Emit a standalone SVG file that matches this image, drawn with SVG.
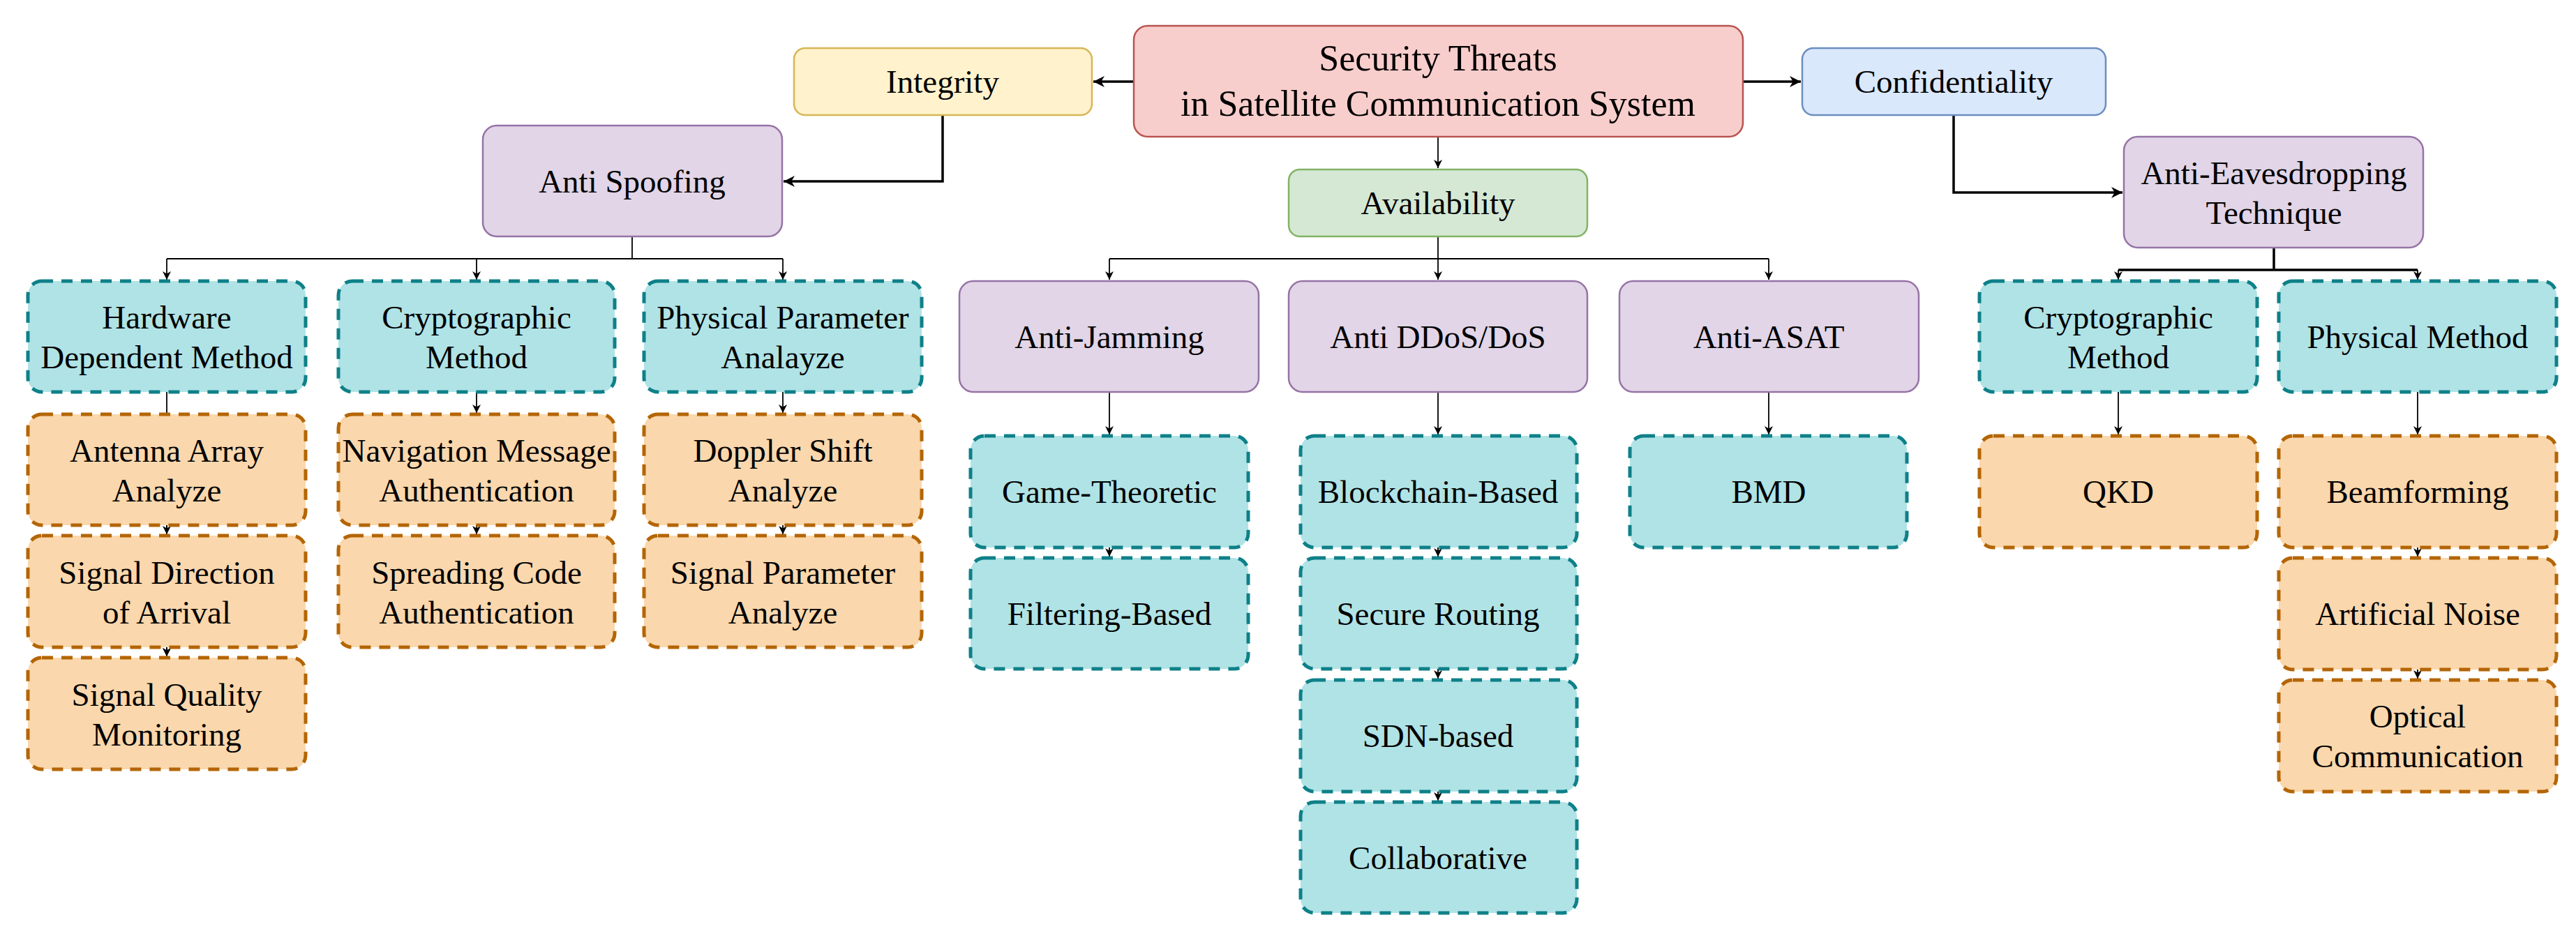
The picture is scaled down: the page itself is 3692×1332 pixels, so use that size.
<svg xmlns="http://www.w3.org/2000/svg" width="3692" height="1332" viewBox="0 0 3692 1332">
<style>
text{font-family:"Liberation Serif","Times New Roman",serif;font-size:47px;text-anchor:middle;fill:#000}
.r{fill:#f8cecc;stroke:#b85450;stroke-width:2.5}
.y{fill:#fff2cc;stroke:#d6b656;stroke-width:2.5}
.b{fill:#dae8fc;stroke:#6c8ebf;stroke-width:2.5}
.g{fill:#d5e8d4;stroke:#82b366;stroke-width:2.5}
.p{fill:#e1d5e7;stroke:#9673a6;stroke-width:2.5}
.t{fill:#b0e3e6;stroke:#0e8088;stroke-width:5;stroke-dasharray:16 12}
.o{fill:#fad7ac;stroke:#b46504;stroke-width:5;stroke-dasharray:16 12}
.c{fill:none;stroke:#000;stroke-width:1.8}
.k{fill:none;stroke:#000;stroke-width:3.5}
</style>
<defs>
<marker id="a" viewBox="0 0 10 10" refX="10" refY="5" markerWidth="12" markerHeight="12" markerUnits="userSpaceOnUse" orient="auto"><path d="M0,0 L10,5 L0,10 L3,5 Z" fill="#000"/></marker>
<marker id="A" viewBox="0 0 10 10" refX="10" refY="5" markerWidth="16" markerHeight="16" markerUnits="userSpaceOnUse" orient="auto"><path d="M0,0 L10,5 L0,10 L3,5 Z" fill="#000"/></marker>
</defs>
<g id="connectors">
<path class="k" d="M1625,117 H1567" marker-end="url(#A)"/>
<path class="k" d="M2498,117 H2581" marker-end="url(#A)"/>
<path class="c" d="M2061,196 V241" marker-end="url(#a)"/>
<path class="k" d="M1351,165 V260 H1123" marker-end="url(#A)"/>
<path class="k" d="M2800,165 V276 H3042" marker-end="url(#A)"/>
<path class="c" d="M906,339 V371 M239,371 H1122"/>
<path class="c" d="M239,371 V401" marker-end="url(#a)"/>
<path class="c" d="M683,371 V401" marker-end="url(#a)"/>
<path class="c" d="M1122,371 V401" marker-end="url(#a)"/>
<path class="c" d="M2061,339 V401" marker-end="url(#a)"/>
<path class="c" d="M1590,371 H2535"/>
<path class="c" d="M1590,371 V401" marker-end="url(#a)"/>
<path class="c" d="M2535,371 V401" marker-end="url(#a)"/>
<path class="k" d="M3259,355 V387 M3036,387 H3465"/>
<path class="c" d="M3036,387 V401" marker-end="url(#a)"/>
<path class="c" d="M3465,387 V401" marker-end="url(#a)"/>
<path class="c" d="M239,562 V592 M239,753 V766 M239,928 V941" marker-end="url(#a)"/>
<path class="c" d="M683,562 V592" marker-end="url(#a)"/>
<path class="c" d="M683,753 V766" marker-end="url(#a)"/>
<path class="c" d="M1122,562 V592" marker-end="url(#a)"/>
<path class="c" d="M1122,753 V766" marker-end="url(#a)"/>
<path class="c" d="M239,753 V766" marker-end="url(#a)"/>
<path class="c" d="M239,928 V941" marker-end="url(#a)"/>
<path class="c" d="M1590,562 V623" marker-end="url(#a)"/>
<path class="c" d="M1590,785 V798" marker-end="url(#a)"/>
<path class="c" d="M2061,562 V623" marker-end="url(#a)"/>
<path class="c" d="M2061,785 V798" marker-end="url(#a)"/>
<path class="c" d="M2061,959 V973" marker-end="url(#a)"/>
<path class="c" d="M2061,1135 V1148" marker-end="url(#a)"/>
<path class="c" d="M2535,562 V623" marker-end="url(#a)"/>
<path class="c" d="M3036,562 V623" marker-end="url(#a)"/>
<path class="c" d="M3465,562 V623" marker-end="url(#a)"/>
<path class="c" d="M3465,785 V798" marker-end="url(#a)"/>
<path class="c" d="M3465,960 V973" marker-end="url(#a)"/>
</g>
<g id="root"><rect class="r" x="1625" y="37" width="873" height="159" rx="20"/><text style="font-size:52px" x="2061" y="101">Security Threats</text><text style="font-size:52px" x="2061" y="166">in Satellite Communication System</text></g>
<g id="integrity"><rect class="y" x="1138" y="69" width="427" height="96" rx="16"/><text x="1351" y="133">Integrity</text></g>
<g id="confidentiality"><rect class="b" x="2583" y="69" width="435" height="96" rx="16"/><text x="2800" y="133">Confidentiality</text></g>
<g id="availability"><rect class="g" x="1847" y="243" width="428" height="96" rx="16"/><text x="2061" y="307">Availability</text></g>
<g id="antispoofing"><rect class="p" x="692" y="180" width="429" height="159" rx="20"/><text x="906" y="276">Anti Spoofing</text></g>
<g id="antieaves"><rect class="p" x="3044" y="196" width="429" height="159" rx="20"/><text x="3259" y="264">Anti-Eavesdropping</text><text x="3259" y="321">Technique</text></g>
<g id="hardware"><rect class="t" x="40" y="403" width="398" height="159" rx="20"/><text x="239" y="471">Hardware</text><text x="239" y="528">Dependent Method</text></g>
<g id="crypto1"><rect class="t" x="485" y="403" width="396" height="159" rx="20"/><text x="683" y="471">Cryptographic</text><text x="683" y="528">Method</text></g>
<g id="physparam"><rect class="t" x="923" y="403" width="398" height="159" rx="20"/><text x="1122" y="471">Physical Parameter</text><text x="1122" y="528">Analayze</text></g>
<g id="antijamming"><rect class="p" x="1375" y="403" width="429" height="159" rx="20"/><text x="1590" y="499">Anti-Jamming</text></g>
<g id="antiddos"><rect class="p" x="1847" y="403" width="428" height="159" rx="20"/><text x="2061" y="499">Anti DDoS/DoS</text></g>
<g id="antiasat"><rect class="p" x="2321" y="403" width="429" height="159" rx="20"/><text x="2535" y="499">Anti-ASAT</text></g>
<g id="crypto2"><rect class="t" x="2837" y="403" width="398" height="159" rx="20"/><text x="3036" y="471">Cryptographic</text><text x="3036" y="528">Method</text></g>
<g id="physmethod"><rect class="t" x="3266" y="403" width="398" height="159" rx="20"/><text x="3465" y="499">Physical Method</text></g>
<g id="antenna"><rect class="o" x="40" y="594" width="398" height="159" rx="20"/><text x="239" y="662">Antenna Array</text><text x="239" y="719">Analyze</text></g>
<g id="doa"><rect class="o" x="40" y="768" width="398" height="160" rx="20"/><text x="239" y="837">Signal Direction</text><text x="239" y="894">of Arrival</text></g>
<g id="sqm"><rect class="o" x="40" y="943" width="398" height="160" rx="20"/><text x="239" y="1012">Signal Quality</text><text x="239" y="1069">Monitoring</text></g>
<g id="nma"><rect class="o" x="485" y="594" width="396" height="159" rx="20"/><text x="683" y="662">Navigation Message</text><text x="683" y="719">Authentication</text></g>
<g id="sca"><rect class="o" x="485" y="768" width="396" height="160" rx="20"/><text x="683" y="837">Spreading Code</text><text x="683" y="894">Authentication</text></g>
<g id="doppler"><rect class="o" x="923" y="594" width="398" height="159" rx="20"/><text x="1122" y="662">Doppler Shift</text><text x="1122" y="719">Analyze</text></g>
<g id="sigparam"><rect class="o" x="923" y="768" width="398" height="160" rx="20"/><text x="1122" y="837">Signal Parameter</text><text x="1122" y="894">Analyze</text></g>
<g id="game"><rect class="t" x="1391" y="625" width="398" height="160" rx="20"/><text x="1590" y="721">Game-Theoretic</text></g>
<g id="filter"><rect class="t" x="1391" y="800" width="398" height="159" rx="20"/><text x="1590" y="896">Filtering-Based</text></g>
<g id="blockchain"><rect class="t" x="1864" y="625" width="396" height="160" rx="20"/><text x="2061" y="721">Blockchain-Based</text></g>
<g id="routing"><rect class="t" x="1864" y="800" width="396" height="159" rx="20"/><text x="2061" y="896">Secure Routing</text></g>
<g id="sdn"><rect class="t" x="1864" y="975" width="396" height="160" rx="20"/><text x="2061" y="1071">SDN-based</text></g>
<g id="collab"><rect class="t" x="1864" y="1150" width="396" height="159" rx="20"/><text x="2061" y="1246">Collaborative</text></g>
<g id="bmd"><rect class="t" x="2336" y="625" width="397" height="160" rx="20"/><text x="2535" y="721">BMD</text></g>
<g id="qkd"><rect class="o" x="2837" y="625" width="398" height="160" rx="20"/><text x="3036" y="721">QKD</text></g>
<g id="beam"><rect class="o" x="3266" y="625" width="398" height="160" rx="20"/><text x="3465" y="721">Beamforming</text></g>
<g id="noise"><rect class="o" x="3266" y="800" width="398" height="160" rx="20"/><text x="3465" y="896">Artificial Noise</text></g>
<g id="optical"><rect class="o" x="3266" y="975" width="398" height="160" rx="20"/><text x="3465" y="1043">Optical</text><text x="3465" y="1100">Communication</text></g>
</svg>
